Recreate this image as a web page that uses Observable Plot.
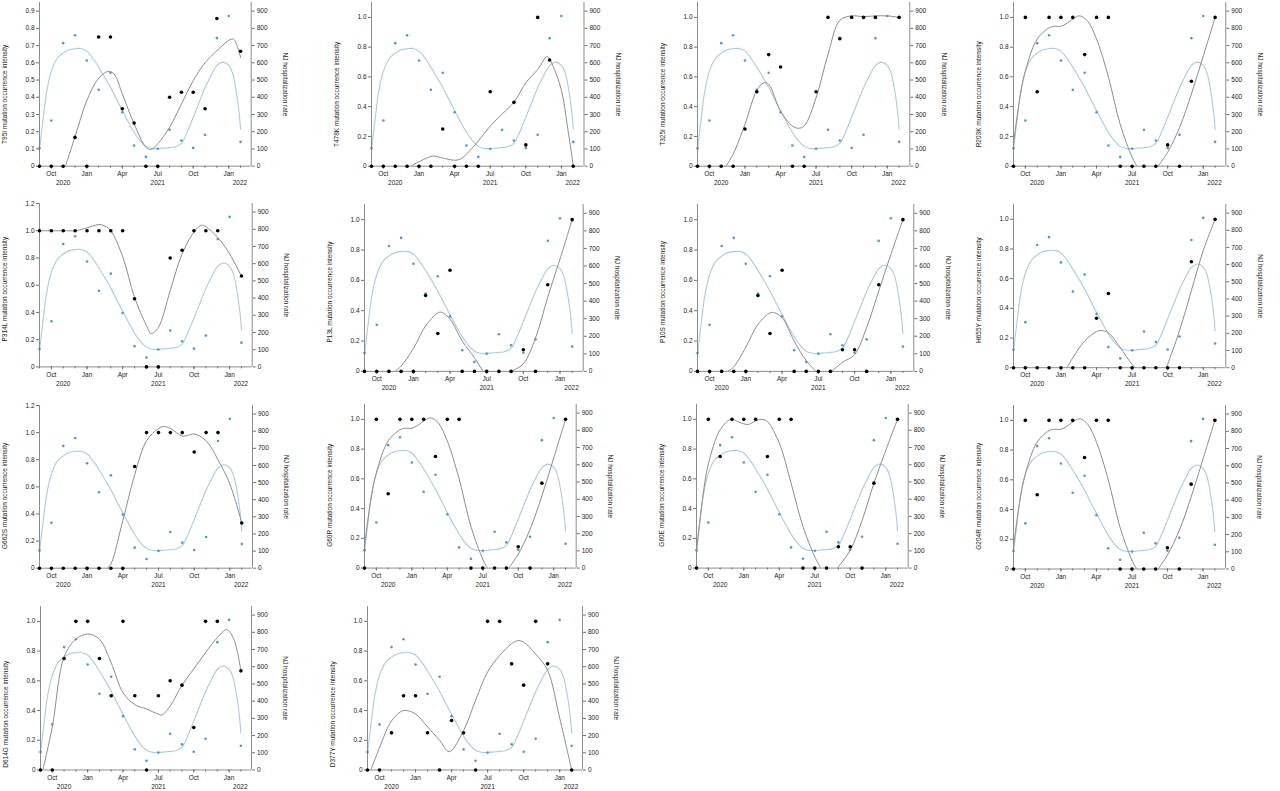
<!DOCTYPE html>
<html><head><meta charset="utf-8">
<script src="https://cdn.jsdelivr.net/npm/d3@7"></script>
<script src="https://cdn.jsdelivr.net/npm/@observablehq/plot@0.6"></script>
<style>
body{margin:0;background:#fff;}
#fig{position:relative;width:1280px;height:791px;overflow:hidden;background:#fff;}
.panel{position:absolute;}
.panel svg{position:absolute;left:0;top:0;max-width:none !important;}
</style></head><body><div id="fig"></div>
<script>
// ---------- DATA ----------
// months indexed 0 = Sep 2020 ... 17 = Feb 2022
const monthIndex = [0,1,2,3,4,5,6,7,8,9,10,11,12,13,14,15,16,17];
const monthTicks = [1,4,7,10,13,16];
const monthTickLabels = ["Oct","Jan","Apr","Jul","Oct","Jan"];
const yearTicks = [2,10,16.95];
const yearTickLabels = ["2020","2021","2022"];
const hospTicks = [0,100,200,300,400,500,600,700,800,900];

const hospRate = [104,265,714,760,613,443,542,313,120,54,101,211,149,106,182,743,872,141];
const hospFit = [[0,95],[0.3,270],[0.6,430],[1,550],[1.5,625],[2,656],[2.5,676],[3,682],[3.5,683],[4,668],[4.5,628],[5,575],[5.5,518],[6,458],[6.5,390],[7,323],[7.5,258],[8,197],[8.5,148],[9,115],[9.5,103],[10,102],[10.5,105],[11,108],[11.5,113],[12,132],[12.5,200],[13,284],[13.5,370],[14,455],[14.5,525],[15,584],[15.5,604],[16,585],[16.3,545],[16.6,450],[16.85,330],[17,215]];

const mutationNames = ["T95I","T478K","T325I","R203K","P314L","P13L","P10S","H655Y","G662S","G60R","G60E","G204R","D614G","D377Y"];

const T95I  = [0,0,0,0.167,0,0.75,0.75,0.333,0.25,0,0,0.4,0.429,0.429,0.333,0.857,null,0.667];
const T478K = [0,0,0,0,0,0,0.25,0,0,0,0.5,null,0.429,0.143,1.0,0.714,null,0];
const T325I = [0,0,0,0,0.25,0.5,0.75,0.667,0,0,0.5,1.0,0.857,1.0,1.0,1.0,null,1.0];
const R203K = [0,1,0.5,1,1,1,0.75,1,1,0,0,0,0,0.143,0,0.571,null,1];
const P314L = [1,1,1,1,1,1,1,1,0.5,0,0,0.8,0.857,1,1,1,null,0.667];
const P13L  = [0,0,0,0,0,0.5,0.25,0.667,0,0,0,0,0,0.143,0,0.571,null,1];
const P10S  = [0,0,0,0,0,0.5,0.25,0.667,0,0,0,0,0.143,0.143,0,0.571,null,1];
const H655Y = [0,0,0,0,0,0,0,0.333,0.5,0,0,0,0,0,0,0.714,null,1];
const G662S = [0,0,0,0,0,0,0,0,0.75,1,1,1,1,0.857,1,1,null,0.333];
const G60R  = [0,1,0.5,1,1,1,0.75,1,1,0,0,0,0,0.143,0,0.571,null,1];
const G60E  = [0,1,0.75,1,1,1,0.75,1,1,0,0,0,0.143,0.143,0,0.571,null,1];
const G204R = [0,1,0.5,1,1,1,0.75,1,1,0,0,0,0,0.143,0,0.571,null,1];
const D614G = [0,0,0.75,1,1,0.75,0.5,1,0.5,0,0.5,0.6,0.571,0.286,1,1,null,0.667];
const D377Y = [0,0,0.25,0.5,0.5,0.25,0,0.333,0.25,0,1,1,0.714,0.571,1,0.714,null,0];

// fitted curves [month, value]; null = break (curve below 0)
const T95I_fit  = [[2.2,0],[3,0.17],[4,0.38],[5,0.51],[5.8,0.55],[6.3,0.535],[7,0.42],[8,0.246],[9,0.11],[9.4,0.097],[10,0.13],[11,0.226],[12,0.36],[13,0.497],[14,0.6],[15,0.67],[16,0.73],[16.4,0.738],[16.8,0.68],[17,0.63]];
const T478K_fit = [[3.3,0],[4,0.03],[5,0.065],[5.3,0.068],[6,0.055],[7,0.04],[7.5,0.048],[8,0.08],[9,0.17],[10,0.27],[11,0.35],[12,0.43],[13,0.56],[14,0.65],[14.8,0.736],[15.3,0.67],[16,0.51],[16.5,0.27],[17,0]];
const T325I_fit = [[2.4,0],[3,0.08],[4,0.28],[5,0.51],[5.6,0.56],[6,0.55],[7,0.37],[8,0.27],[8.5,0.255],[9,0.27],[10,0.46],[11,0.75],[12,0.98],[13,1.01],[14,1.005],[15,1.01],[16,1.01],[17,1.0]];
const R203K_fit = [[0,0.15],[0.5,0.44],[1,0.64],[2,0.855],[3,0.93],[3.4,0.94],[4,0.94],[4.5,0.96],[5.2,1.0],[5.6,1.01],[6.2,0.98],[7,0.855],[8,0.6],[9,0.28],[10,0.06],[10.4,0],null,[12.2,0],[13,0.094],[14,0.26],[15,0.485],[16,0.74],[17,1.0]];
const P314L_fit = [[0,1.0],[1,1.0],[2,1.0],[3,1.0],[3.5,1.008],[4.5,1.035],[5,1.046],[5.5,1.035],[6,1.0],[7,0.81],[8,0.51],[9,0.305],[9.4,0.245],[10,0.29],[11,0.56],[12,0.83],[13,0.99],[13.6,1.04],[14,1.03],[15,0.95],[16,0.83],[17,0.665]];
const P13L_fit  = [[2.5,0],[3,0.035],[4,0.15],[5,0.3],[6,0.385],[6.3,0.39],[7,0.345],[8,0.2],[9,0.09],[9.7,0],null,[12,0],[13,0.05],[14,0.22],[15,0.49],[16,0.74],[17,1.0]];
const P10S_fit  = [[2.5,0],[3,0.03],[4,0.16],[5,0.31],[6,0.385],[6.3,0.388],[7,0.355],[8,0.2],[9,0.07],[9.8,0],null,[11.1,0],[12,0.06],[13,0.11],[14,0.29],[15,0.53],[16,0.77],[17,1.0]];
const H655Y_fit = [[4.5,0],[5,0.067],[6,0.18],[7,0.243],[7.4,0.25],[8,0.236],[9,0.135],[10,0.022],[10.3,0],null,[12.9,0],[14,0.25],[15,0.52],[16,0.79],[17,1.0]];
const G662S_fit = [[5.7,0],[6,0.03],[7,0.35],[8,0.69],[9,0.94],[10,1.03],[10.5,1.045],[11,1.03],[12,0.975],[12.5,0.98],[13,0.99],[14,0.94],[15,0.8],[16,0.62],[17,0.333]];
const G60R_fit  = [[0,0.15],[0.5,0.44],[1,0.64],[2,0.855],[3,0.93],[3.4,0.94],[4,0.94],[4.5,0.96],[5.2,1.0],[5.6,1.01],[6.2,0.98],[7,0.855],[8,0.6],[9,0.28],[10,0.06],[10.4,0],null,[12.2,0],[13,0.094],[14,0.26],[15,0.485],[16,0.74],[17,1.0]];
const G60E_fit  = [[0,0.12],[0.5,0.46],[1,0.7],[2,0.93],[2.9,1.0],[3.5,0.985],[4,0.97],[4.4,0.966],[5,0.99],[5.5,1.0],[6,0.985],[7,0.84],[8,0.57],[9,0.28],[10,0.076],[10.5,0],null,[11.9,0],[13,0.12],[14,0.32],[15,0.57],[16,0.79],[17,1.0]];
const G204R_fit = [[0,0.15],[0.5,0.44],[1,0.64],[2,0.855],[3,0.93],[3.4,0.94],[4,0.94],[4.5,0.96],[5.2,1.0],[5.6,1.01],[6.2,0.98],[7,0.855],[8,0.6],[9,0.28],[10,0.06],[10.4,0],null,[12.2,0],[13,0.094],[14,0.26],[15,0.485],[16,0.74],[17,1.0]];
const D614G_fit = [[0.2,0],[1,0.29],[2,0.76],[3,0.88],[4,0.915],[5,0.88],[6,0.72],[7,0.52],[8,0.44],[9,0.41],[10,0.375],[10.3,0.37],[11,0.43],[12,0.57],[13,0.68],[14,0.79],[15,0.89],[15.8,0.944],[16.4,0.88],[17,0.668]];
const D377Y_fit = [[0.28,0],[1,0.15],[2,0.33],[3,0.4],[4,0.377],[5,0.29],[6,0.2],[6.8,0.123],[8,0.265],[9,0.47],[10,0.66],[11,0.77],[12,0.85],[12.5,0.87],[13,0.86],[14,0.78],[15,0.67],[16,0.35],[17,0]];

const leftTicksA = [0,0.1,0.2,0.3,0.4,0.5,0.6,0.7,0.8,0.9];
const leftTicksB = [0,0.2,0.4,0.6,0.8,1.0];
const leftTicksC = [0,0.2,0.4,0.6,0.8,1.0,1.2];

// ---------- PANELS (data + scale extents) ----------
const panels = [
  {name:"T95I",  vals:T95I,  fit:T95I_fit,  ymax:0.95, ticks:leftTicksA},
  {name:"T478K", vals:T478K, fit:T478K_fit, ymax:1.1,  ticks:leftTicksB},
  {name:"T325I", vals:T325I, fit:T325I_fit, ymax:1.1,  ticks:leftTicksB},
  {name:"R203K", vals:R203K, fit:R203K_fit, ymax:1.1,  ticks:leftTicksB},
  {name:"P314L", vals:P314L, fit:P314L_fit, ymax:1.2,  ticks:leftTicksC},
  {name:"P13L",  vals:P13L,  fit:P13L_fit,  ymax:1.1,  ticks:leftTicksB},
  {name:"P10S",  vals:P10S,  fit:P10S_fit,  ymax:1.1,  ticks:leftTicksB},
  {name:"H655Y", vals:H655Y, fit:H655Y_fit, ymax:1.1,  ticks:leftTicksB},
  {name:"G662S", vals:G662S, fit:G662S_fit, ymax:1.2,  ticks:leftTicksC},
  {name:"G60R",  vals:G60R,  fit:G60R_fit,  ymax:1.1,  ticks:leftTicksB},
  {name:"G60E",  vals:G60E,  fit:G60E_fit,  ymax:1.1,  ticks:leftTicksB},
  {name:"G204R", vals:G204R, fit:G204R_fit, ymax:1.1,  ticks:leftTicksB},
  {name:"D614G", vals:D614G, fit:D614G_fit, ymax:1.1,  ticks:leftTicksB},
  {name:"D377Y", vals:D377Y, fit:D377Y_fit, ymax:1.1,  ticks:leftTicksB}
];

// ---------- LAYOUT (pixel frame of each panel) ----------
const layout = [
  {L:39.3, R:251,   T:2,     B:165.7, tdy:10},
  {L:371,  R:583.5, T:2,     B:165.7, tdy:10},
  {L:696.7,R:909,   T:2,     B:165.7, tdy:10},
  {L:1012.7,R:1225, T:2,     B:165.7, tdy:10},
  {L:39.3, R:252,   T:203.3, B:366.7, tdy:4},
  {L:364.3,R:583,   T:203.8, B:370.7, tdy:4},
  {L:696.7,R:913,   T:203.8, B:370.7, tdy:4},
  {L:1012.7,R:1225, T:203.5, B:366.7, tdy:4},
  {L:39.3, R:252.3, T:405,   B:567.7, tdy:9},
  {L:364.3,R:576,   T:404.4, B:568,   tdy:9},
  {L:696,  R:907.7, T:404.4, B:568,   tdy:9},
  {L:1013, R:1225,  T:404.5, B:568,   tdy:9},
  {L:40,   R:251,   T:605.8, B:769.3, tdy:26},
  {L:367,  R:582,   T:605.8, B:769.3, tdy:26}
];

const FONT = "'Liberation Sans', Arial, Helvetica, sans-serif";
const FS = 6.5;
const AX = "#6e6e6e";
const TXT = "#222";
const GRAYLINE = "#8c8c8c";
const BLUELINE = "#a8cbe2";
const BLUEDOT = "#4a9ad0";
const XEND = 17.9;
const ML = 45, MR = 45, MT = 6, MB = 26;

const monthLabel = new Map(monthTicks.map((d,i)=>[d, monthTickLabels[i]]));
const yearLabel = new Map(yearTicks.map((d,i)=>[d, yearTickLabels[i]]));

function fitRows(fit){
  let seg = 0; const out = [];
  for (const p of fit){ if (p === null){ seg++; continue; } out.push({m:p[0], v:p[1], seg}); }
  return out;
}
const fmtLeft = d => d === 0 ? "0" : d.toFixed(1);

const fig = document.getElementById("fig");

panels.forEach((p, k) => {
  const lay = layout[k];
  const W = lay.R - lay.L + ML + MR;
  const H = lay.B - lay.T + MT + MB;
  const div = document.createElement("div");
  div.className = "panel";
  div.style.left = (lay.L - ML) + "px";
  div.style.top = (lay.T - MT) + "px";
  div.style.width = W + "px";
  div.style.height = H + "px";
  fig.appendChild(div);

  const common = {
    width: W, height: H,
    marginLeft: ML, marginRight: MR, marginTop: MT, marginBottom: MB,
    style: {background: "transparent", fontFamily: FONT, fontSize: FS + "px", color: TXT, overflow: "visible"},
    x: {domain: [0, XEND], axis: null}
  };

  const hospRows = monthIndex.map((m,i)=>({m, v: hospRate[i]}));
  const hosp = Plot.plot({
    ...common,
    y: {domain: [0, 950], axis: null},
    marks: [
      Plot.ruleX([XEND], {stroke: AX, strokeWidth: 0.8}),
      Plot.axisY({anchor: "right", ticks: hospTicks, tickSize: 3, tickPadding: 2.5, label: null, stroke: AX, fill: TXT, fontSize: FS}),
      Plot.line(fitRows(hospFit), {x: "m", y: "v", z: "seg", curve: "catmull-rom", stroke: BLUELINE, strokeWidth: 1.1, clip: true}),
      Plot.dot(hospRows, {x: "m", y: "v", r: 1.3, fill: BLUEDOT, stroke: "none"}),
      Plot.text(["NJ hospitalization rate"], {frameAnchor: "right", textAnchor: "middle", dx: 34, rotate: 90, fill: TXT, fontSize: FS})
    ]
  });

  const mutRows = monthIndex.map((m,i)=>({m, v: p.vals[i]})).filter(d => d.v !== null);
  const mut = Plot.plot({
    ...common,
    y: {domain: [0, p.ymax], axis: null},
    marks: [
      Plot.ruleX([0], {stroke: AX, strokeWidth: 0.8}),
      Plot.ruleY([0], {stroke: AX, strokeWidth: 0.8}),
      Plot.axisY({ticks: p.ticks, tickFormat: fmtLeft, tickSize: 3, tickPadding: 2, label: null, stroke: AX, fill: TXT, fontSize: FS}),
      Plot.axisX({ticks: monthIndex, tickSize: 2, tickFormat: () => "", label: null, stroke: AX}),
      Plot.axisX({ticks: monthTicks, tickSize: 3, tickPadding: 2, tickFormat: d => monthLabel.get(d), label: null, stroke: AX, fill: TXT, fontSize: FS}),
      Plot.axisX({ticks: yearTicks, tickSize: 0, tickPadding: 14, tickFormat: d => yearLabel.get(d), label: null, fill: TXT, fontSize: FS}),
      Plot.line(fitRows(p.fit), {x: "m", y: "v", z: "seg", curve: "catmull-rom", stroke: GRAYLINE, strokeWidth: 1, clip: true}),
      Plot.dot(mutRows, {x: "m", y: "v", r: 1.8, fill: "#000", stroke: "none"}),
      Plot.text([p.name + " mutation occurrence intensity"], {frameAnchor: "left", textAnchor: "middle", dx: -35, dy: lay.tdy, rotate: -90, fill: TXT, fontSize: FS})
    ]
  });

  div.appendChild(hosp);
  div.appendChild(mut);
});
</script>
</body></html>
